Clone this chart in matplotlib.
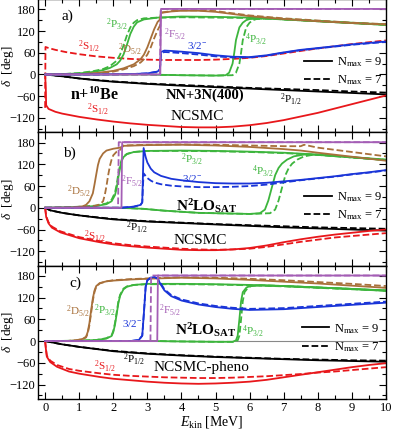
import matplotlib
matplotlib.use('Agg')
import matplotlib.pyplot as plt
from matplotlib.lines import Line2D
from matplotlib.ticker import MultipleLocator

plt.rcParams['font.family'] = ['Liberation Serif', 'DejaVu Serif']
plt.rcParams['mathtext.fontset'] = 'custom'
plt.rcParams['mathtext.rm'] = 'Liberation Serif'
plt.rcParams['mathtext.it'] = 'Liberation Serif:italic'
plt.rcParams['mathtext.bf'] = 'Liberation Serif:bold'

RED = '#e8171b'
BLACK = '#000000'
BROWN = '#a8703a'
GREEN = '#3db53d'
BLUE = '#1a35d8'
PURPLE = '#a45eb5'

# ---------------- panel a (NN+3N(400)) ----------------
A_S_E = [0, 0.02, 0.03, 0.1, 0.3, 0.5, 1, 1.5, 2, 2.5, 3, 3.5, 4, 4.5, 5, 5.5, 6, 6.5, 7, 7.5, 8, 8.5, 9, 9.5, 10]
A_S9 = [0, -40, -85, -95, -103, -108, -117, -124, -130, -135, -139, -142, -145, -146, -146, -144, -140, -134, -126, -116, -106, -94, -82, -70, -58]
A_S7_E = [0, 0.01, 0.1, 0.3, 0.6, 1, 1.5, 2, 2.5, 3, 3.5, 4, 4.5, 5, 5.5, 6, 6.5, 7, 7.5, 8, 8.5, 9, 9.5, 10]
A_S7 = [-92, 76, 73, 68, 62, 56, 50, 46, 43, 41, 40, 40, 40, 41, 43, 46, 51, 58, 65, 72, 78, 84, 89, 94]
A_P1_E = [0, 0.5, 1, 1.5, 2, 3, 4, 5, 6, 7, 8, 9, 10]
A_P1_9 = [0, -5, -11, -16, -20, -26, -31, -35, -39, -43, -47, -51, -55]
A_P1_7 = [0, -5, -11, -15, -19, -25, -29, -33, -37, -40, -43, -47, -50]
A_F_E9 = [0, 3.38, 3.40, 10]
A_F_E7 = [0, 3.37, 3.39, 10]
A_F = [0, 0, 181, 181]
A_B_E = [0, 1.5, 2.5, 3.0, 3.3, 3.37, 3.40, 3.5, 3.7, 4, 4.5, 5, 5.5, 6, 6.5, 7, 7.5, 8, 8.5, 9, 9.5, 10]
A_B9 = [0, 0, 1, 3, 8, 15, 62, 66, 65, 63, 59, 53, 49, 48, 53, 61, 68, 73, 78, 83, 87, 91]
A_B7 = [0, 0, 1, 3, 8, 15, 58, 62, 61, 59, 55, 50, 47, 47, 52, 60, 67, 72, 77, 82, 86, 90]
A_P3_E = [0, 0.5, 1, 1.4, 1.7, 1.9, 2.1, 2.2, 2.3, 2.4, 2.5, 2.6, 2.7, 2.9, 3.3, 3.5, 4, 5, 6, 7, 8, 9, 10]
A_P3_9 = [0, 1, 3, 7, 12, 18, 28, 38, 55, 82, 112, 132, 144, 152, 157, 158, 160, 159, 157, 153, 148, 143, 138]
A_P3_7 = [0, 1, 4, 9, 15, 23, 38, 55, 80, 108, 130, 143, 150, 155, 157, 157, 158, 157, 156, 152, 147, 142, 137]
A_Q_E9 = [0, 3.0, 3.4, 4, 5, 5.3, 5.4, 5.5, 5.55, 5.6, 5.7, 5.8, 5.9, 6, 6.5, 7, 8, 9, 10]
A_Q_E7 = [0, 3.0, 3.4, 4, 5, 5.5, 5.6, 5.7, 5.75, 5.8, 5.9, 6.0, 6.1, 6.2, 6.6, 7, 8, 9, 10]
A_Q = [0, 0, -1, -2, -3, -2, 5, 30, 60, 95, 130, 143, 150, 153, 155, 152, 147, 142, 137]
A_D_E = [0, 1, 1.5, 2, 2.3, 2.6, 2.8, 2.9, 3.0, 3.1, 3.2, 3.3, 3.37, 3.40, 3.7, 4, 4.5, 5, 5.5, 6, 7, 8, 9, 10]
A_D9 = [0, 1, 4, 10, 17, 28, 42, 55, 75, 100, 125, 145, 152, 170, 174, 176, 176, 173, 167, 161, 153, 147, 142, 138]
A_D7 = [0, 1, 3, 8, 14, 23, 33, 42, 55, 75, 100, 122, 135, 171, 175, 177, 177, 175, 169, 163, 155, 149, 143, 139]

# ---------------- panel b (N2LO_SAT) ----------------
B_S_E = [0, 0.03, 0.1, 0.2, 0.45, 1, 1.6, 2, 2.5, 3, 3.5, 4, 4.5, 5, 5.5, 6, 6.5, 7, 7.5, 8, 8.5, 9, 9.5, 10]
B_S9 = [0, -25, -43, -55, -68, -84, -95, -101, -106, -110, -113, -116, -117, -117, -115, -111, -104, -95, -87, -80, -74, -69, -64, -60]
B_S7 = [0, -23, -40, -52, -65, -81, -92, -98, -103, -107, -110, -113, -115, -116, -115, -113, -108, -101, -94, -88, -82, -78, -74, -70]
B_P1_E = [0, 0.15, 0.5, 1, 1.6, 2, 3, 4, 5, 6, 7, 8, 9, 10]
B_P1_9 = [0, -7, -14, -21, -28, -32, -38, -42, -46, -50, -54, -57, -60, -63]
B_P1_7 = [0, -7, -14, -21, -27, -31, -37, -41, -45, -48, -51, -54, -56, -58]
B_F_E9 = [0, 2.24, 2.26, 10]
B_F_E7 = [0, 2.14, 2.16, 10]
B_F = [0, 0, 181, 181]
B_D_E9 = [0, 0.8, 1.1, 1.2, 1.3, 1.4, 1.45, 1.5, 1.55, 1.6, 1.7, 1.8, 2.0, 2.2, 2.3, 3, 4, 5, 6, 7, 7.5, 8, 9, 10]
B_D9 = [0, 1, 4, 8, 18, 40, 65, 92, 118, 135, 150, 158, 163, 166, 171, 173, 174, 172, 168, 162, 158, 152, 141, 130]
B_D_E7 = [0, 1, 1.4, 1.6, 1.7, 1.75, 1.8, 1.85, 1.9, 1.95, 2.0, 2.1, 2.2, 2.3, 3, 4, 5, 6, 7, 7.5, 7.6, 8, 9, 10]
B_D7 = [0, 1, 4, 9, 18, 35, 60, 90, 115, 133, 145, 155, 160, 172, 174, 175, 174, 172, 170, 170, 174, 166, 154, 142]
B_P3_E = [0, 0.5, 1, 1.5, 1.8, 1.95, 2.05, 2.1, 2.15, 2.2, 2.25, 2.3, 2.4, 2.6, 3, 4, 5, 6, 7, 8, 9, 10]
B_P3_9 = [0, 1, 2, 5, 10, 18, 35, 55, 85, 110, 130, 140, 148, 154, 157, 158, 157, 155, 152, 147, 140, 133]
B_P3_7 = [0, 1, 3, 6, 12, 22, 42, 65, 95, 118, 134, 142, 149, 154, 157, 157, 156, 154, 151, 146, 139, 132]
B_Q_E9 = [0, 2.2, 2.9, 3.5, 4, 4.5, 5, 5.5, 6, 6.3, 6.45, 6.55, 6.65, 6.75, 6.85, 6.95, 7.1, 7.3, 7.6, 8, 9, 10]
B_Q_E7 = [0, 2.2, 2.9, 3.5, 4, 4.5, 5, 5.5, 6, 6.6, 6.75, 6.85, 6.95, 7.05, 7.15, 7.25, 7.4, 7.6, 7.9, 8.2, 9, 10]
B_Q = [0, 0, -3, -8, -11, -14, -15, -16, -17, -15, -5, 20, 55, 90, 110, 122, 133, 142, 147, 146, 139, 132]
B_B_E = [0, 2.2, 2.6, 2.8, 2.85, 2.87, 2.89, 2.95, 3.0, 3.1, 3.2, 3.4, 3.7, 4, 4.5, 5, 5.5, 6, 6.5, 7, 7.5, 8, 8.5, 9, 9.5, 10]
B_B9 = [0, 0, 3, 8, 15, 90, 165, 140, 125, 108, 98, 88, 80, 76, 71, 68, 67, 67, 69, 73, 77, 82, 87, 93, 98, 104]
B_B7 = [0, 0, 3, 8, 15, 60, 95, 88, 82, 75, 70, 65, 61, 59, 57, 57, 58, 60, 64, 70, 76, 81, 86, 92, 97, 103]

# ---------------- panel c (N2LO_SAT, NCSMC-pheno) ----------------
C_S_E = [0, 0.02, 0.05, 0.15, 0.35, 0.7, 1, 1.6, 2, 2.5, 3, 3.5, 4, 4.5, 5, 5.5, 6, 6.5, 7, 7.5, 8, 8.5, 9, 9.5, 10]
C_S9 = [0, -20, -43, -58, -71, -84, -90, -99, -104, -108, -112, -115, -117, -118, -117, -115, -112, -107, -100, -93, -86, -79, -72, -66, -61]
C_S7 = [0, -18, -40, -54, -66, -77, -82, -89, -93, -96, -98, -100, -101, -102, -102, -101, -99, -97, -94, -91, -87, -84, -80, -76, -72]
C_P1_E = [0, 0.5, 1, 2, 3, 4, 5, 6, 7, 8, 9, 10]
C_P1_9 = [0, -9, -16, -28, -35, -40, -44, -47, -50, -53, -55, -57]
C_P1_7 = [0, -9, -16, -27, -34, -39, -43, -46, -49, -51, -53, -54]
C_F_E9 = [0, 3.29, 3.31, 10]
C_F_E7 = [0, 3.09, 3.11, 10]
C_F = [0, 0, 181, 181]
C_D_E = [0, 0.6, 0.9, 1.1, 1.2, 1.25, 1.3, 1.35, 1.4, 1.45, 1.5, 1.6, 1.8, 2, 2.5, 3, 3.3, 4, 5, 6, 7, 8, 9, 10]
C_D9 = [0, 0, 2, 6, 12, 25, 50, 85, 118, 140, 152, 160, 165, 167, 170, 172, 173, 175, 173, 169, 164, 159, 153, 147]
C_D7 = [0, 0, 2, 5, 10, 21, 44, 78, 112, 136, 150, 159, 165, 168, 171, 173, 174, 176, 175, 172, 168, 163, 158, 152]
C_P3_E = [0, 1, 1.5, 1.8, 1.95, 2.0, 2.05, 2.1, 2.15, 2.2, 2.3, 2.4, 2.6, 3, 3.3, 4, 5, 6, 7, 8, 9, 10]
C_P3_9 = [0, 1, 3, 7, 14, 25, 45, 75, 105, 125, 143, 150, 155, 158, 158, 158, 157, 155, 152, 148, 144, 140]
C_P3_7 = [0, 1, 3, 8, 16, 28, 50, 80, 110, 128, 145, 151, 155, 157, 157, 157, 156, 154, 151, 147, 143, 139]
C_Q_E9 = [0, 3.3, 4, 5, 5.5, 5.6, 5.65, 5.7, 5.75, 5.8, 5.9, 6, 6.3, 7, 8, 9, 10]
C_Q_E7 = [0, 3.3, 4, 5, 5.55, 5.65, 5.7, 5.75, 5.8, 5.85, 5.95, 6.05, 6.35, 7, 8, 9, 10]
C_Q = [0, 0, -1, -2, -2, 2, 15, 60, 110, 135, 147, 152, 154, 152, 148, 144, 139]
C_B_E = [0, 2.5, 2.75, 2.85, 2.9, 2.95, 3.0, 3.1, 3.2, 3.3, 3.4, 3.5, 3.7, 4, 4.5, 5, 5.5, 6, 7, 8, 9, 10]
C_B9 = [0, 0, 3, 15, 80, 150, 168, 175, 177, 172, 155, 140, 124, 112, 101, 94, 89, 86, 88, 94, 100, 106]
C_B7 = [0, 0, 3, 15, 80, 150, 168, 175, 177, 173, 158, 143, 127, 115, 104, 97, 92, 89, 91, 97, 103, 109]

TICKS_Y = [-120, -60, 0, 60, 120, 180]
TICKS_X = [0, 1, 2, 3, 4, 5, 6, 7, 8, 9, 10]

fig = plt.figure(figsize=(3.95, 4.30), dpi=100)
H = 0.31
axs = [fig.add_axes([0.097, 0.072 + 2 * H, 0.88, H]),
       fig.add_axes([0.097, 0.072 + H, 0.88, H]),
       fig.add_axes([0.097, 0.072, 0.88, H])]

LW = 1.3


def pair(ax, e9, d9, e7, d7, color):
    ax.plot(e7, d7, color=color, lw=LW, ls='--')
    ax.plot(e9, d9, color=color, lw=LW, ls='-')


def lab(ax, x, y, s, color, size=8, **kw):
    ax.text(x, y, s, color=color, fontsize=size, ha='center', va='center', **kw)


# panel a
ax = axs[0]
pair(ax, A_P1_E, A_P1_9, A_P1_E, A_P1_7, BLACK)
ax.plot(A_S_E, A_S9, color=RED, lw=LW)
ax.plot(A_S7_E, A_S7, color=RED, lw=LW, ls='--')
pair(ax, A_Q_E9, A_Q, A_Q_E7, A_Q, GREEN)
pair(ax, A_P3_E, A_P3_9, A_P3_E, A_P3_7, GREEN)
pair(ax, A_D_E, A_D9, A_D_E, A_D7, BROWN)
pair(ax, A_B_E, A_B9, A_B_E, A_B7, BLUE)
pair(ax, A_F_E9, A_F, A_F_E7, A_F, PURPLE)

# panel b
ax = axs[1]
pair(ax, B_P1_E, B_P1_9, B_P1_E, B_P1_7, BLACK)
pair(ax, B_S_E, B_S9, B_S_E, B_S7, RED)
pair(ax, B_Q_E9, B_Q, B_Q_E7, B_Q, GREEN)
pair(ax, B_P3_E, B_P3_9, B_P3_E, B_P3_7, GREEN)
pair(ax, B_D_E9, B_D9, B_D_E7, B_D7, BROWN)
pair(ax, B_B_E, B_B9, B_B_E, B_B7, BLUE)
pair(ax, B_F_E9, B_F, B_F_E7, B_F, PURPLE)

# panel c
ax = axs[2]
ax.axhline(0, color='#888888', lw=0.8, zorder=0)
pair(ax, C_P1_E, C_P1_9, C_P1_E, C_P1_7, BLACK)
pair(ax, C_S_E, C_S9, C_S_E, C_S7, RED)
pair(ax, C_Q_E9, C_Q, C_Q_E7, C_Q, GREEN)
pair(ax, C_P3_E, C_P3_9, C_P3_E, C_P3_7, GREEN)
pair(ax, C_D_E, C_D9, C_D_E, C_D7, BROWN)
pair(ax, C_B_E, C_B9, C_B_E, C_B7, BLUE)
pair(ax, C_F_E9, C_F, C_F_E7, C_F, PURPLE)

S12 = r'$^{2}$S$_{1/2}$'
P12 = r'$^{2}$P$_{1/2}$'
P32 = r'$^{2}$P$_{3/2}$'
D52 = r'$^{2}$D$_{5/2}$'
F52 = r'$^{2}$F$_{5/2}$'
Q32 = r'$^{4}$P$_{3/2}$'
B32 = r'3/2$^{-}$'
N2LO = r'N$^{\mathbf{2}}$LO$_{\mathbf{SAT}}$'

ax = axs[0]
lab(ax, 0.65, 160, 'a)', BLACK, 11)
lab(ax, 2.1, 136, P32, GREEN)
lab(ax, 2.5, 68, D52, BROWN)
lab(ax, 1.3, 76, S12, RED)
lab(ax, 3.8, 108, F52, PURPLE)
lab(ax, 4.45, 80, B32, BLUE)
lab(ax, 6.2, 94, Q32, GREEN)
lab(ax, 1.45, -57, r'n+$^{\mathbf{10}}$Be', BLACK, 11.5, fontweight='bold')
lab(ax, 4.7, -57, 'NN+3N(400)', BLACK, 10.5, fontweight='bold')
lab(ax, 4.45, -117, 'NCSMC', BLACK, 11)
lab(ax, 1.55, -99, S12, RED)
lab(ax, 7.2, -69, P12, BLACK)

ax = axs[1]
lab(ax, 0.7, 150, 'b)', BLACK, 11)
lab(ax, 1.0, 43, D52, BROWN)
lab(ax, 2.55, 70, F52, PURPLE)
lab(ax, 4.3, 131, P32, GREEN)
lab(ax, 4.3, 81, B32, BLUE)
lab(ax, 4.75, 5, N2LO, BLACK, 11, fontweight='bold')
lab(ax, 2.7, -57, P12, BLACK)
lab(ax, 1.45, -81, S12, RED)
lab(ax, 4.55, -90, 'NCSMC', BLACK, 11)
lab(ax, 6.4, 98, Q32, GREEN)

ax = axs[2]
lab(ax, 0.88, 159, 'c)', BLACK, 11)
lab(ax, 0.95, 80, D52, BROWN)
lab(ax, 1.75, 82, P32, GREEN)
lab(ax, 2.55, 49, B32, BLUE)
lab(ax, 3.65, 82, F52, PURPLE)
lab(ax, 4.7, 30, N2LO, BLACK, 11, fontweight='bold')
lab(ax, 6.1, 25, Q32, GREEN)
lab(ax, 2.6, -52, P12, BLACK)
lab(ax, 1.75, -71, S12, RED)
lab(ax, 4.6, -74, 'NCSMC-pheno', BLACK, 11)

handles = [Line2D([], [], color=BLACK, lw=LW, ls='-'),
           Line2D([], [], color=BLACK, lw=LW, ls='--')]
labels = [r'N$_{\rm max}$ = 9', r'N$_{\rm max}$ = 7']
leg_pos = [(0.765, 0.46), (0.765, 0.445), (0.758, 0.46)]

for i, ax in enumerate(axs):
    ax.set_xlim(-0.2, 10)
    ax.set_ylim(-160, 208)
    ax.set_yticks(TICKS_Y)
    ax.set_xticks(TICKS_X)
    ax.yaxis.set_minor_locator(MultipleLocator(30))
    ax.xaxis.set_minor_locator(MultipleLocator(0.5))
    ax.tick_params(which='both', direction='in', top=True, right=True, labelsize=9, width=0.8, pad=2)
    ax.tick_params(which='major', length=5)
    ax.tick_params(which='minor', length=3)
    for sp in ax.spines.values():
        sp.set_linewidth(1.0)
    ax.set_ylabel(r'$\delta$  [deg]', fontsize=9.5)
    ax.yaxis.set_label_coords(-0.064, 0.5)
    if i < 2:
        ax.tick_params(labelbottom=False)
    ax.legend(handles, labels, loc='center left', bbox_to_anchor=leg_pos[i], frameon=False,
              fontsize=9, handlelength=2.2, handletextpad=0.4, borderaxespad=0, borderpad=0,
              labelspacing=0.35)

axs[2].set_xlabel(r'$E_{\rm kin}$ [MeV]', fontsize=10, labelpad=0)

fig.savefig('out.png', dpi=100)
